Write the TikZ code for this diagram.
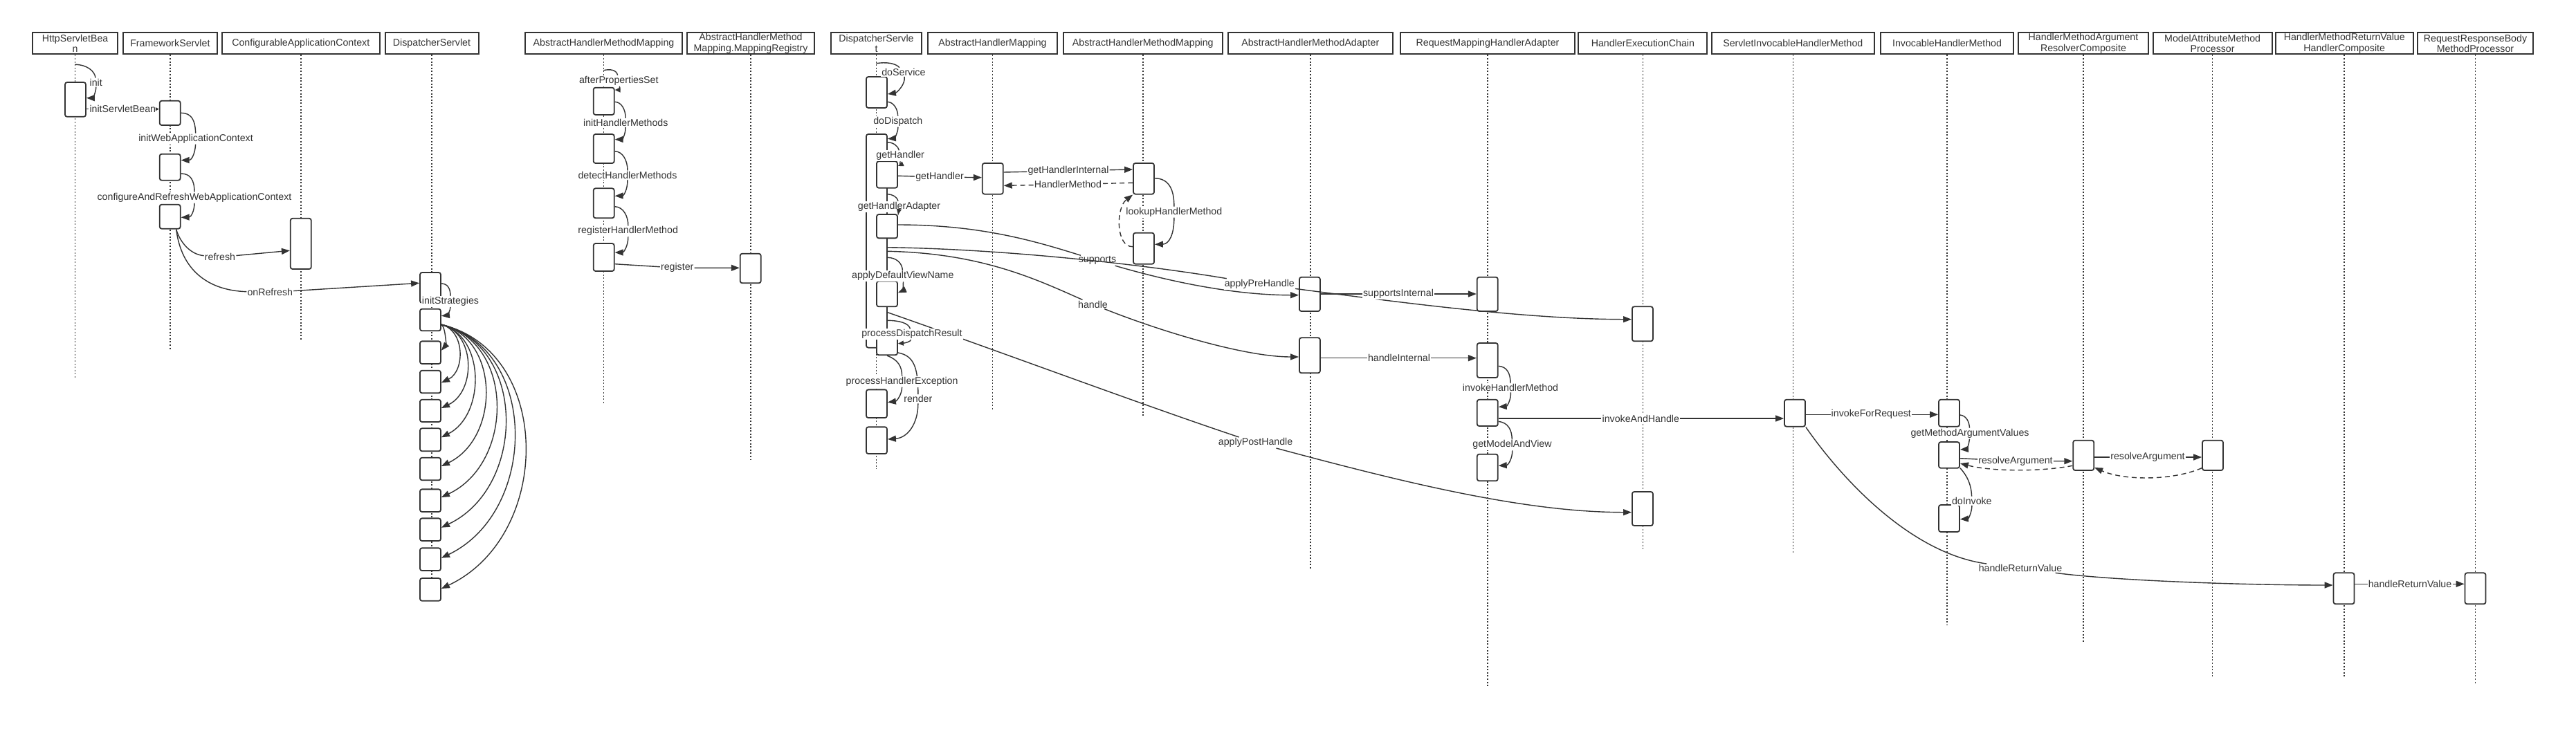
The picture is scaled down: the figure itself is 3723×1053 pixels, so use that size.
\documentclass[tikz,border=0pt]{standalone}
\usepackage{fontspec}
\setmainfont{Liberation Sans}
\usetikzlibrary{arrows.meta,calc}
\definecolor{ink}{HTML}{333333}
\tikzset{
 hdr/.style={draw=ink, line width=2pt, fill=white, inner sep=0pt, minimum height=31pt, align=center, text=ink, font=\fontsize{14.2}{15.6}\selectfont},
 act/.style={draw=ink, line width=1.8pt, fill=white, rounded corners=3pt, inner sep=0pt, minimum width=30pt},
 lbl/.style={fill=white, inner xsep=1pt, inner ysep=1.2pt, text=ink, font=\fontsize{14.2}{16}\selectfont},
 life/.style={draw=ink, line width=1.6pt, dash pattern=on 2pt off 2.6pt},
 msg/.style={draw=ink, line width=1.4pt, -{Triangle[length=12pt,width=9pt]}},
 smsg/.style={draw=ink, line width=1.4pt, -{Triangle[length=8pt,width=7pt]}},
 rmsg/.style={msg, dash pattern=on 7pt off 5pt},
}
\begin{document}
\begin{tikzpicture}[x=1pt,y=-1pt]
\fill[white] (0,0) rectangle (3723,1053);
\useasboundingbox (0,0) rectangle (3723,1053);
% headers
\node[hdr, minimum width=122.6pt] (h1) at (108.6,62.8) {HttpServletBea\\n};
\node[hdr, minimum width=136.3pt] (h2) at (245.9,62.8) {FrameworkServlet};
\node[hdr, minimum width=228.6pt] (h3) at (434.8,62.8) {ConfigurableApplicationContext};
\node[hdr, minimum width=135pt] (h4) at (624,62.8) {DispatcherServlet};
\node[hdr, minimum width=227.8pt] (h5) at (872.5,62.8) {AbstractHandlerMethodMapping};
\node[hdr, minimum width=184.2pt] (h6) at (1085,62.8) {AbstractHandlerMethod\\Mapping.MappingRegistry};
\node[hdr, minimum width=131pt] (h7) at (1266.5,62.8) {DispatcherServle\\t};
\node[hdr, minimum width=187pt] (h8) at (1434.5,62.8) {AbstractHandlerMapping};
\node[hdr, minimum width=230pt] (h9) at (1651.8,62.8) {AbstractHandlerMethodMapping};
\node[hdr, minimum width=238pt] (h10) at (1893.8,62.8) {AbstractHandlerMethodAdapter};
\node[hdr, minimum width=252.3pt] (h11) at (2150,62.8) {RequestMappingHandlerAdapter};
\node[hdr, minimum width=185.9pt] (h12) at (2374.4,62.8) {HandlerExecutionChain};
\node[hdr, minimum width=235pt] (h13) at (2591.3,62.8) {ServletInvocableHandlerMethod};
\node[hdr, minimum width=192.8pt] (h14) at (2814,62.8) {InvocableHandlerMethod};
\node[hdr, minimum width=187.4pt] (h15) at (3011,62.8) {HandlerMethodArgument\\ResolverComposite};
\node[hdr, minimum width=172.2pt] (h16) at (3197.6,62.8) {ModelAttributeMethod\\Processor};
\node[hdr, minimum width=199.4pt] (h17) at (3388.2,62.8) {HandlerMethodReturnValue\\HandlerComposite};
\node[hdr, minimum width=167.5pt] (h18) at (3577.5,62.8) {RequestResponseBody\\MethodProcessor};
% lifelines
\foreach \h/\e in {h1/547.7, h2/505.7, h3/491.7, h4/868, h5/584, h6/665, h7/678.3, h8/593.3, h9/603.3, h10/822, h11/992, h12/796, h13/799.3, h14/903.3, h15/928.3, h16/979.3, h17/979.3, h18/990}
  \draw[life] (\h.south) -- (\h.south |- 0,\e);
% activation boxes
\node[act, minimum height=49.7pt] (ahsb) at (109,143.9) {};
\node[act, minimum height=35.3pt] (afs1) at (245.7,163.4) {};
\node[act, minimum height=38pt] (afs2) at (245.7,241.7) {};
\node[act, minimum height=35pt] (afs3) at (245.7,313.2) {};
\node[act, minimum height=73.3pt] (acac) at (434.8,352.4) {};
\node[act, minimum height=44pt] (ads1) at (622,416) {};
\node[act, minimum height=31.6pt] (ads2) at (622,462.5) {};
\node[act, minimum height=32.7pt] (ads3) at (622,509.7) {};
\node[act, minimum height=32.6pt] (ads4) at (622,552) {};
\node[act, minimum height=32.3pt] (ads5) at (622,593.9) {};
\node[act, minimum height=33pt] (ads6) at (622,635.8) {};
\node[act, minimum height=32.6pt] (ads7) at (622,678) {};
\node[act, minimum height=32.7pt] (ads8) at (622,723.7) {};
\node[act, minimum height=32.7pt] (ads9) at (622,765.7) {};
\node[act, minimum height=32.7pt] (ads10) at (622,808.7) {};
\node[act, minimum height=32.7pt] (ads11) at (622,852.4) {};
\node[act, minimum height=39.3pt] (am1) at (872.7,146.3) {};
\node[act, minimum height=42pt] (am2) at (872.7,215) {};
\node[act, minimum height=43pt] (am3) at (872.7,293.8) {};
\node[act, minimum height=40pt] (am4) at (872.7,372) {};
\node[act, minimum height=42.6pt] (areg) at (1084.7,388) {};
\node[act, minimum height=45pt] (ad1) at (1267,133.5) {};
\node[act, minimum height=308.7pt] (ad2) at (1267,348.3) {};
\node[act, minimum height=38.4pt] (ngh) at (1282,252.5) {};
\node[act, minimum height=34.3pt] (ngha) at (1282,327.2) {};
\node[act, minimum height=36.6pt] (nadv) at (1282,425) {};
\node[act, minimum height=34.6pt] (npdr) at (1282,496) {};
\node[act, minimum height=40.7pt] (aphe) at (1267,583.7) {};
\node[act, minimum height=38.7pt] (aren) at (1267,636.7) {};
\node[act, minimum height=44.7pt] (aahm) at (1434.8,258.3) {};
\node[act, minimum height=44.7pt] (ah1) at (1653,258.3) {};
\node[act, minimum height=45pt] (ah2) at (1653,359.2) {};
\node[act, minimum height=49.3pt] (aa1) at (1892.9,425.4) {};
\node[act, minimum height=51pt] (aa2) at (1892.9,513.8) {};
\node[act, minimum height=49.3pt] (rm1) at (2149.8,425.4) {};
\node[act, minimum height=50pt] (rm2) at (2149.8,521) {};
\node[act, minimum height=38.3pt] (rm3) at (2149.8,596.9) {};
\node[act, minimum height=38.6pt] (rm4) at (2149.8,676) {};
\node[act, minimum height=50pt] (he1) at (2373.9,468.3) {};
\node[act, minimum height=49pt] (he2) at (2373.9,735.5) {};
\node[act, minimum height=39pt] (asi) at (2594,597.2) {};
\node[act, minimum height=39pt] (ih1) at (2817,597.2) {};
\node[act, minimum height=37.7pt] (ih2) at (2817,657.9) {};
\node[act, minimum height=39pt] (ih3) at (2817,749.5) {};
\node[act, minimum height=43.3pt] (hmarc) at (3011.2,658.4) {};
\node[act, minimum height=43.3pt] (ama) at (3198,658.4) {};
\node[act, minimum height=45pt] (arv) at (3387.5,850.8) {};
\node[act, minimum height=45pt] (arr) at (3577.5,850.8) {};
% ---- connectors ----
\node[lbl] (linit) at (138.7,119) {init};
\draw[msg] (h1.south |- 0,93.3) .. controls (126,93.5) and (137,103) .. (linit) .. controls (139,134) and (133,141.7) .. (ahsb.east |- 0,141.7);
\node[lbl] (lisb) at (177.3,157.7) {initServletBean};
\draw[smsg, -{Triangle[length=5pt,width=5pt]}] (ahsb.east |- 0,157.7) -- (lisb) -- (afs1.west |- 0,157.7);
\node[lbl] (liwac) at (283,200.7) {initWebApplicationContext};
\draw[msg] (afs1.east |- 0,163.3) .. controls (276,163.5) and (282,172) .. (liwac) .. controls (282,222) and (277,231.5) .. (afs2.east |- 0,231.7);
\node[lbl] (lcar) at (281,285.7) {configureAndRefreshWebApplicationContext};
\draw[msg] (afs2.east |- 0,251) .. controls (275,251) and (281,260) .. (lcar) .. controls (281,305) and (276,314) .. (afs3.east |- 0,314.3);
\node[lbl] (lref) at (318,371.7) {refresh};
\draw[msg] ($(afs3.south)+(9,0)$) .. controls (260,350) and (275,368) .. (lref) -- (acac.west |- 0,362.3);
\node[lbl] (lonr) at (390.3,422.7) {onRefresh};
\draw[msg] ($(afs3.south)+(9,0)$) .. controls (262,390) and (300,420) .. (lonr) -- (ads1.west |- 0,409.3);
\node[lbl] (lis) at (651,436) {initStrategies};
\draw[msg] (ads1.east |- 0,410) .. controls (646,410) and (651,416) .. (lis) .. controls (651,450) and (645,456) .. (ads2.east |- 0,456.7);
\begin{scope}[line width=1.2pt]
\draw[msg] (ads2.east |- 0,469.3) .. controls (644.2,473.0) and (644.2,499.2) .. (ads3.east |- 0,506.7);
\draw[msg] (ads2.east |- 0,469.3) .. controls (672.2,477.7) and (672.2,536.5) .. (ads4.east |- 0,553.3);
\draw[msg] (ads2.east |- 0,469.3) .. controls (687.8,481.4) and (687.8,565.9) .. (ads5.east |- 0,590);
\draw[msg] (ads2.east |- 0,469.3) .. controls (701.5,485.6) and (701.5,599.7) .. (ads6.east |- 0,632.3);
\draw[msg] (ads2.east |- 0,469.3) .. controls (722.6,489.8) and (722.6,633.1) .. (ads7.east |- 0,674);
\draw[msg] (ads2.east |- 0,469.3) .. controls (743.5,494.3) and (743.5,669.1) .. (ads8.east |- 0,719);
\draw[msg] (ads2.east |- 0,469.3) .. controls (761,498.6) and (761,704) .. (ads9.east |- 0,762.7);
\draw[msg] (ads2.east |- 0,469.3) .. controls (778.4,503) and (778.4,739.2) .. (ads10.east |- 0,806.7);
\draw[msg] (ads2.east |- 0,469.3) .. controls (799.4,507.5) and (799.4,774.7) .. (ads11.east |- 0,851);
\end{scope}
% AbstractHandlerMethodMapping init
\node[lbl] (laps) at (894.3,116.7) {afterPropertiesSet};
\draw[smsg] (h5.south |- 0,101.7) .. controls (882,99.5) and (891,101) .. (laps) .. controls (896,128) and (893,130) .. (am1.east |- 0,130);
\node[lbl] (lihm) at (904.3,177.3) {initHandlerMethods};
\draw[msg] (am1.east |- 0,147.3) .. controls (898,147.5) and (904,158) .. (lihm) .. controls (904,195) and (899,201.5) .. (am2.east |- 0,201.7);
\node[lbl] (ldhm) at (907,253.3) {detectHandlerMethods};
\draw[msg] (am2.east |- 0,218.7) .. controls (900,219) and (907,232) .. (ldhm) .. controls (907,275) and (901,283) .. (am3.east |- 0,283.3);
\node[lbl] (lrhm) at (907.7,334.3) {registerHandlerMethod};
\draw[msg] (am3.east |- 0,298.7) .. controls (901,299) and (908,313) .. (lrhm) .. controls (908,356) and (901,365) .. (am4.east |- 0,365);
\node[lbl] (lreg) at (978.7,387.3) {register};
\draw[msg] (am4.east |- 0,381.7) -- (lreg) -- (areg.west |- 0,387.3);
% DispatcherServlet request
\node[lbl] (ldsv) at (1305.9,104.3) {doService};
\draw[msg] (h7.south |- 0,91.7) .. controls (1280,89.5) and (1294,91) .. (ldsv) .. controls (1309,122) and (1296,134) .. (ad1.east |- 0,136);
\node[lbl] (ldd) at (1297.8,175.7) {doDispatch};
\draw[msg] (ad1.east |- 0,147.3) .. controls (1292,148) and (1297.5,158) .. (ldd) .. controls (1298,192) and (1292,200) .. (ad2.east |- 0,200.7);
\node[lbl] (lgh1) at (1301.2,225.3) {getHandler};
\draw[smsg] (ad2.east |- 0,205.7) .. controls (1291,206) and (1298,211) .. (lgh1) .. controls (1301,237) and (1299,239.5) .. (ngh.east |- 0,240);
\node[lbl] (lgh2) at (1358,256) {getHandler};
\draw[msg] (ngh.east |- 0,254.3) -- (lgh2) -- (aahm.west |- 0,256.7);
\node[lbl] (lghi) at (1544,247) {getHandlerInternal};
\draw[msg] (aahm.east |- 0,249) -- (lghi) -- (ah1.west |- 0,245);
\node[lbl] (lhm) at (1543.4,266.7) {HandlerMethod};
\draw[rmsg] (ah1.west |- 0,264.3) -- (lhm) -- (aahm.east |- 0,268.3);
\node[lbl] (llhm) at (1696.8,306.7) {lookupHandlerMethod};
\draw[msg] (ah1.east |- 0,257.7) .. controls (1690,258) and (1697,275) .. (llhm) .. controls (1697,338) and (1690,353) .. (ah2.east |- 0,353.3);
\draw[rmsg] (ah2.west |- 0,356.7) .. controls (1612,357) and (1613,300) .. (ah1.south west);
\node[lbl] (lgha) at (1299.5,298.7) {getHandlerAdapter};
\draw[smsg] (ad2.east |- 0,280.7) .. controls (1290,281) and (1297,285) .. (lgha) .. controls (1299,308) and (1298,309.5) .. (ngha.east |- 0,310);
\node[lbl] (lsup) at (1586,376.7) {supports};
\draw[msg] (ngha.east |- 0,325) .. controls (1420,325) and (1500,350) .. (lsup) .. controls (1700,410) and (1790,426.7) .. (aa1.west |- 0,426.7);
\node[lbl] (laph) at (1820.3,410.7) {applyPreHandle};
\draw[msg] (ad2.east |- 0,357.7) .. controls (1450,360) and (1650,382) .. (laph) .. controls (2000,434) and (2200,461.7) .. (he1.west |- 0,461.7);
\node[lbl] (lhdl) at (1579.5,440) {handle};
\draw[msg] (ad2.east |- 0,363.3) .. controls (1420,366) and (1500,405) .. (lhdl) .. controls (1680,480) and (1800,516) .. (aa2.west |- 0,516);
\node[lbl] (ladv) at (1304.8,399.3) {applyDefaultViewName};
\draw[msg] (ad2.east |- 0,372.3) .. controls (1295,372.5) and (1304,380) .. (ladv) .. controls (1306,414) and (1303,421) .. (nadv.east |- 0,423.3);
\node[lbl] (lapost) at (1814.6,640) {applyPostHandle};
\draw[msg] (ad2.east |- 0,451.7) .. controls (1450,510) and (1650,585) .. (lapost) .. controls (2020,695) and (2200,740.7) .. (he2.west |- 0,740.7);
\node[lbl] (lpdr) at (1317.9,483.3) {processDispatchResult};
\draw[smsg] (ad2.east |- 0,463.3) .. controls (1300,463.5) and (1313,467) .. (lpdr) .. controls (1316,494) and (1308,496) .. (npdr.east |- 0,496.7);
\node[lbl] (lren) at (1326.8,576.7) {render};
\draw[msg] (npdr.east |- 0,510) .. controls (1320,514) and (1327,530) .. (lren) .. controls (1327,612) and (1312,633) .. (aren.east |- 0,635);
\node[lbl] (lphe) at (1303.6,551.7) {processHandlerException};
\draw[msg] (npdr.south) .. controls (1298,520) and (1303.6,530) .. (lphe) .. controls (1303.6,570) and (1296,580) .. (aphe.east |- 0,581.7);
% adapters
\node[lbl] (lsi) at (2021,425) {supportsInternal};
\draw[msg] (aa1.east |- 0,425) -- (lsi) -- (rm1.west |- 0,425);
\node[lbl] (lhi) at (2022,517.7) {handleInternal};
\draw[msg] (aa2.east |- 0,517.7) -- (lhi) -- (rm2.west |- 0,517.7);
\node[lbl] (lihm2) at (2183,560.7) {invokeHandlerMethod};
\draw[msg] (rm2.east |- 0,529.3) .. controls (2178,530) and (2183,540) .. (lihm2) .. controls (2184,578) and (2178,587.5) .. (rm3.east |- 0,588.3);
\node[lbl] (liah) at (2371.3,605) {invokeAndHandle};
\draw[msg] (rm3.east |- 0,605) -- (liah) -- (asi.west |- 0,605);
\node[lbl] (lgmv) at (2185.5,643.3) {getModelAndView};
\draw[msg] (rm3.east |- 0,609.3) .. controls (2180,611) and (2185,622) .. (lgmv) .. controls (2186,662) and (2180,672.5) .. (rm4.east |- 0,673.3);
% invocable
\node[lbl] (lifr) at (2704.3,599.3) {invokeForRequest};
\draw[msg] (asi.east |- 0,599.3) -- (lifr) -- (ih1.west |- 0,599.3);
\node[lbl] (lgmav) at (2847,626.7) {getMethodArgumentValues};
\draw[msg] (ih1.east |- 0,600) .. controls (2842,601) and (2846,610) .. (lgmav) .. controls (2846,642) and (2842,649.5) .. (ih2.east |- 0,650);
\node[lbl] (lra1) at (2913,666.7) {resolveArgument};
\draw[msg] (ih2.east |- 0,662.7) -- (lra1) -- (hmarc.west |- 0,666.7);
\draw[rmsg] (hmarc.west |- 0,673.3) .. controls (2950,682) and (2880,682) .. (ih2.east |- 0,670);
\node[lbl] (lra2) at (3104,661) {resolveArgument};
\draw[msg] (hmarc.east |- 0,661) -- (lra2) -- (ama.west |- 0,661);
\draw[rmsg] (ama.west |- 0,676.7) .. controls (3140,695) and (3070,695) .. (hmarc.east |- 0,676);
\node[lbl] (ldi) at (2849.8,724.3) {doInvoke};
\draw[msg] (ih2.east |- 0,676.7) .. controls (2843,688) and (2849,700) .. (ldi) .. controls (2850,740) and (2845,750) .. (ih3.east |- 0,750.7);
\node[lbl] (lhrv1) at (2920,821.7) {handleReturnValue};
\draw[msg] (asi.south east) .. controls (2660,690) and (2760,800) .. (lhrv1) .. controls (3060,840) and (3250,846) .. (arv.west |- 0,846);
\node[lbl] (lhrv2) at (3483,844.3) {handleReturnValue};
\draw[msg] (arv.east |- 0,844.3) -- (lhrv2) -- (arr.west |- 0,844.3);
\end{tikzpicture}
\end{document}
